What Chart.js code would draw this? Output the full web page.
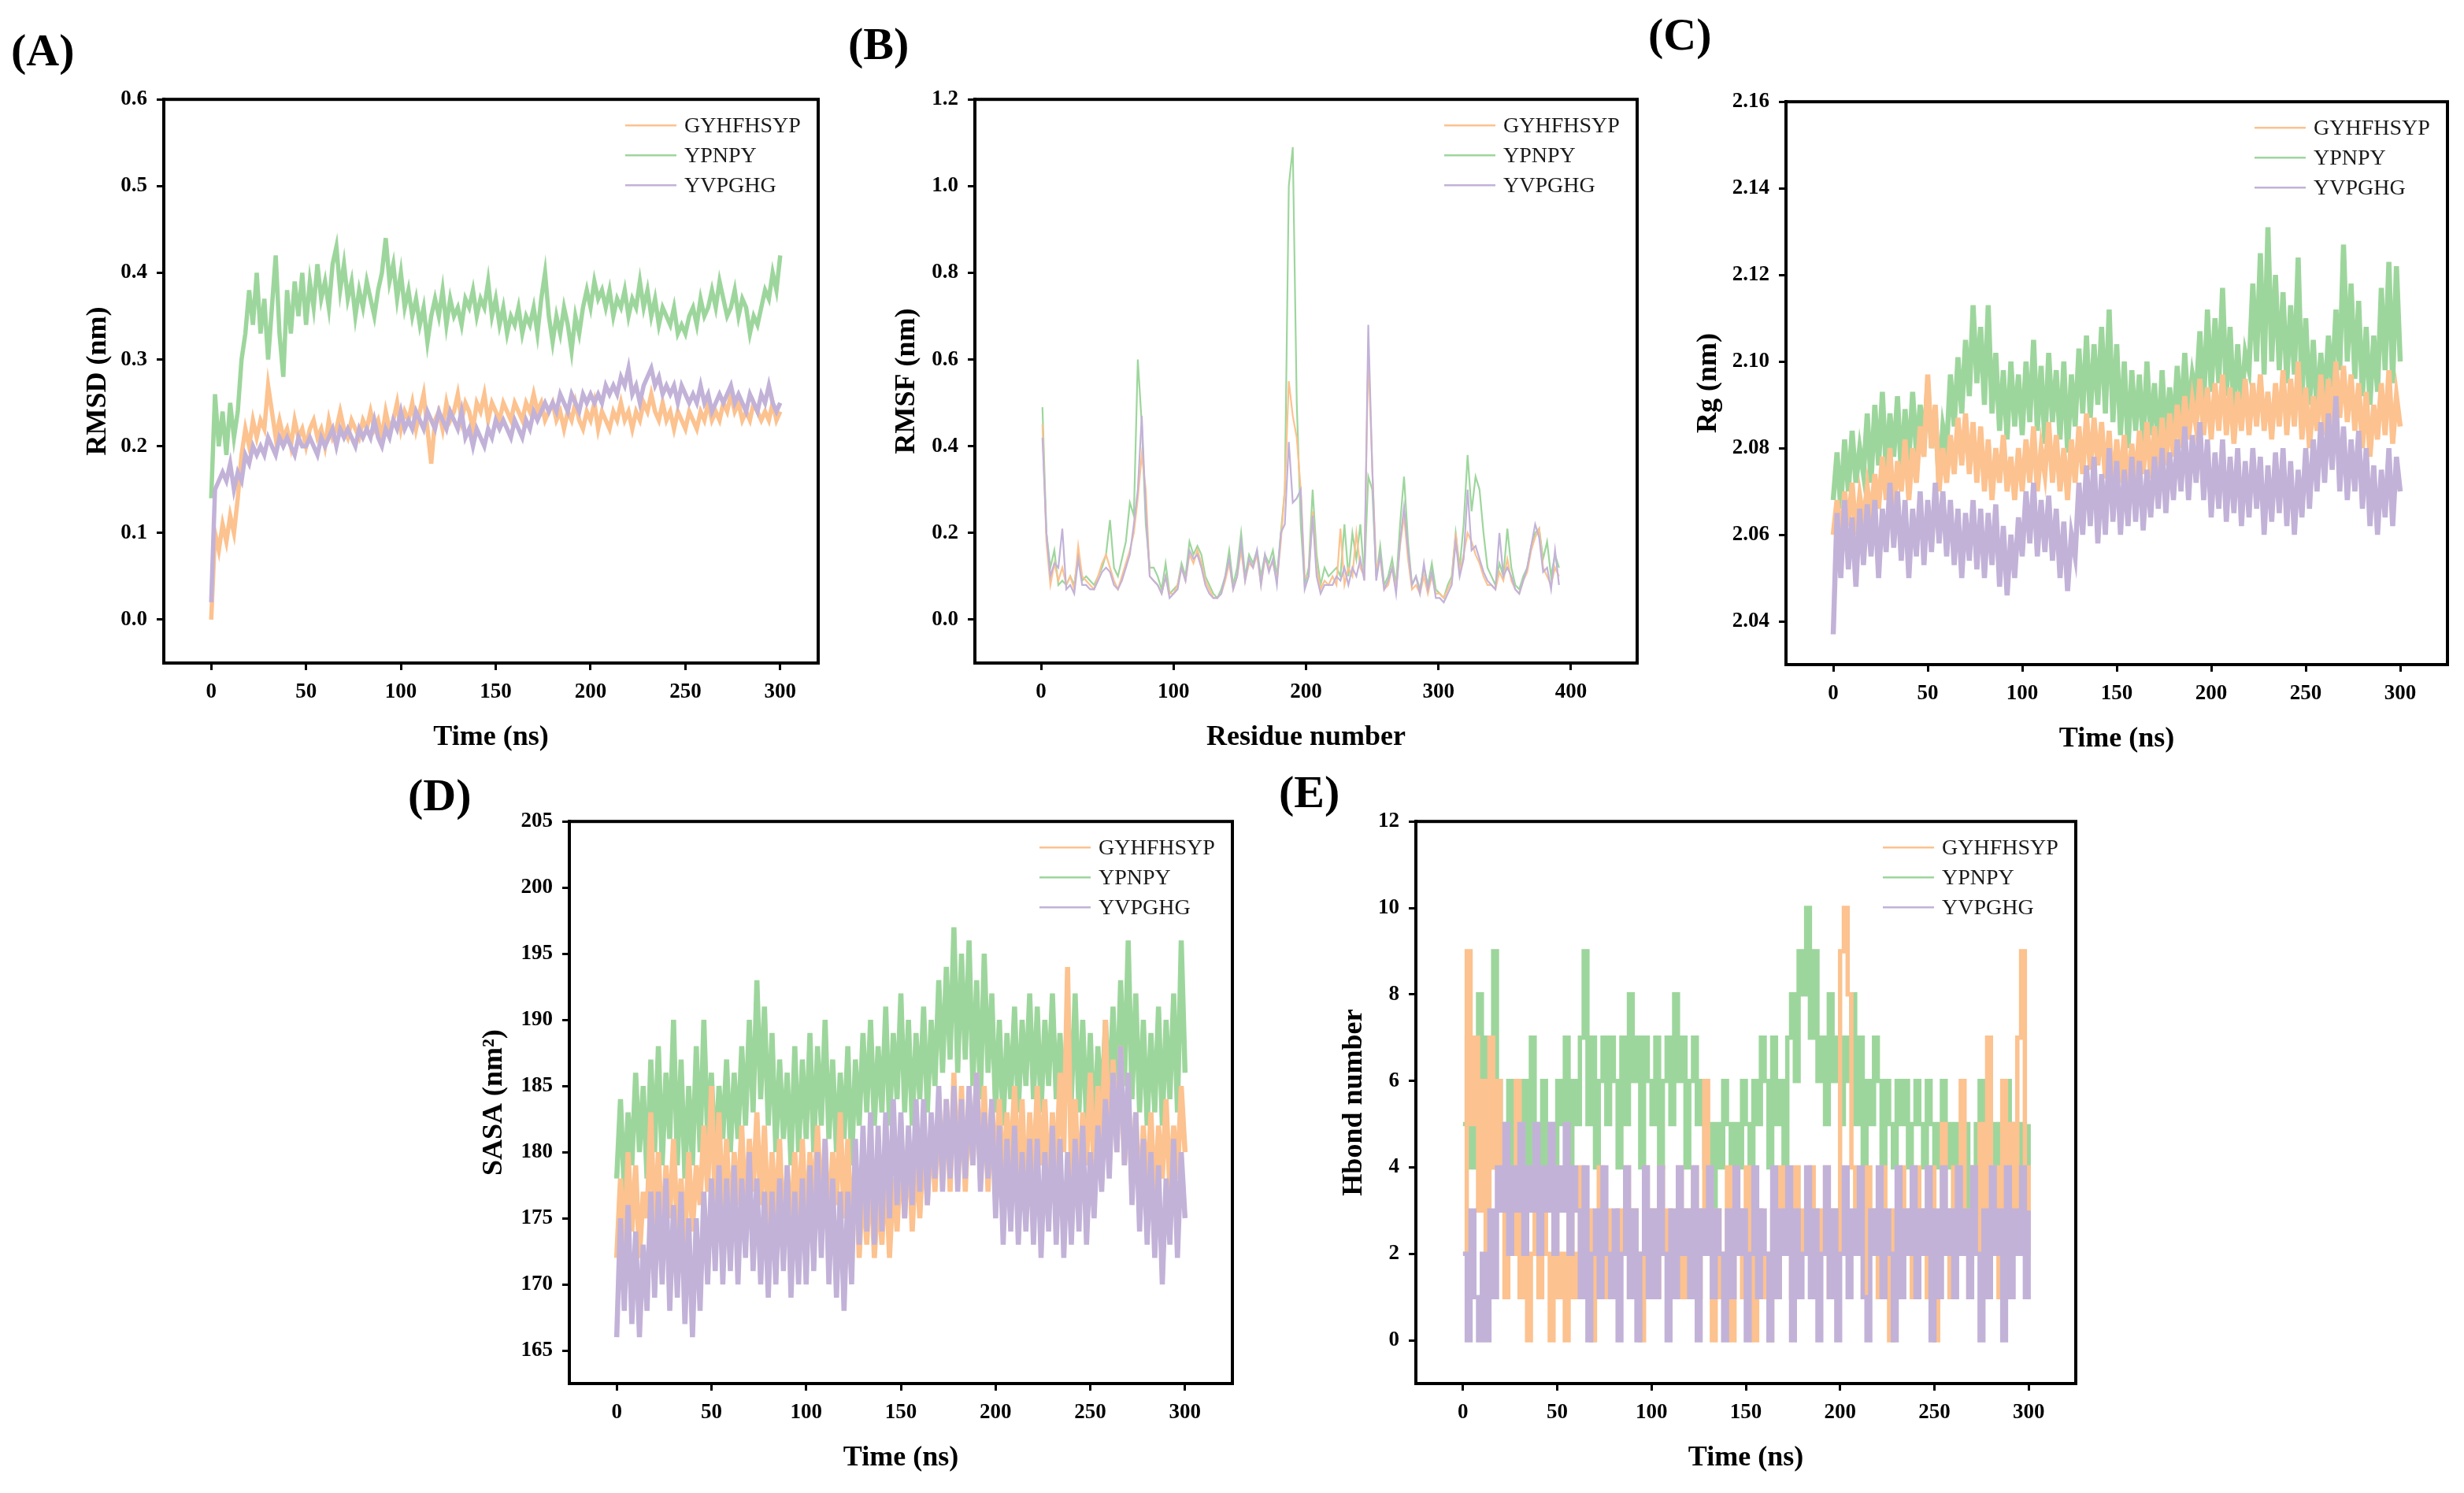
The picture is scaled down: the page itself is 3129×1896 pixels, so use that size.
<!DOCTYPE html>
<html>
<head>
<meta charset="utf-8">
<script src="https://cdn.jsdelivr.net/npm/chart.js@4.4.1/dist/chart.umd.min.js"></script>
<style>
body { margin: 0; background: #fff; width: 3129px; height: 1896px; position: relative; overflow: hidden; font-family: "Liberation Serif", "Times New Roman", serif; }
canvas { position: absolute; }
.tag { position: absolute; font-weight: bold; font-size: 58px; line-height: 1; color: #000; }
</style>
</head>
<body>
<div class="tag" style="left:14px;top:35px">(A)</div>
<div class="tag" style="left:1077px;top:27px">(B)</div>
<div class="tag" style="left:2093px;top:15px">(C)</div>
<div class="tag" style="left:518px;top:981px">(D)</div>
<div class="tag" style="left:1624px;top:977px">(E)</div>
<canvas id="cA"></canvas>
<canvas id="cB"></canvas>
<canvas id="cC"></canvas>
<canvas id="cD"></canvas>
<canvas id="cE"></canvas>
<script>
// peptides
const names = ['GYHFHSYP', 'YPNPY', 'YVPGHG'];

// frames every 2 ns, residues every 3rd
const time = Array.from({length: 151}, (_, i) => i * 2);
const residue = Array.from({length: 131}, (_, i) => 1 + i * 3);

const xTicksTime = [0, 50, 100, 150, 200, 250, 300];
const xTicksRes = [0, 100, 200, 300, 400];
const yTicksRmsd = [0, 0.1, 0.2, 0.3, 0.4, 0.5, 0.6];
const yTicksRmsf = [0, 0.2, 0.4, 0.6, 0.8, 1.0, 1.2];
const yTicksRg = [2.04, 2.06, 2.08, 2.10, 2.12, 2.14, 2.16];
const yTicksSasa = [165, 170, 175, 180, 185, 190, 195, 200, 205];
const yTicksHb = [0, 2, 4, 6, 8, 10, 12];

// (A) RMSD, nm
const rmsdGYH = [0.0,0.1,0.08,0.11,0.09,0.12,0.1,0.14,0.19,0.22,
  0.2,0.23,0.21,0.23,0.22,0.27,0.24,0.21,0.23,0.21,
  0.22,0.2,0.23,0.21,0.22,0.2,0.22,0.23,0.21,0.22,
  0.2,0.23,0.21,0.22,0.24,0.22,0.21,0.23,0.22,0.21,
  0.23,0.22,0.24,0.22,0.23,0.21,0.24,0.22,0.23,0.25,
  0.22,0.24,0.23,0.25,0.22,0.24,0.26,0.22,0.18,0.23,
  0.24,0.22,0.25,0.23,0.24,0.26,0.23,0.25,0.24,0.22,
  0.25,0.24,0.26,0.23,0.25,0.24,0.23,0.25,0.24,0.23,
  0.25,0.24,0.23,0.25,0.24,0.26,0.24,0.25,0.23,0.24,
  0.25,0.23,0.24,0.22,0.24,0.23,0.25,0.23,0.22,0.24,
  0.23,0.25,0.22,0.24,0.23,0.22,0.24,0.23,0.25,0.23,
  0.24,0.22,0.24,0.23,0.25,0.24,0.26,0.24,0.23,0.25,
  0.23,0.24,0.22,0.24,0.23,0.22,0.24,0.23,0.22,0.24,
  0.23,0.25,0.23,0.24,0.23,0.25,0.24,0.26,0.24,0.25,
  0.23,0.24,0.23,0.25,0.24,0.23,0.24,0.23,0.25,0.23,
  0.24];
const rmsdYPN = [0.14,0.26,0.2,0.24,0.19,0.25,0.21,0.24,0.3,0.33,
  0.38,0.34,0.4,0.33,0.37,0.3,0.36,0.42,0.33,0.28,
  0.38,0.33,0.39,0.35,0.4,0.34,0.39,0.36,0.41,0.37,
  0.39,0.36,0.41,0.43,0.38,0.41,0.37,0.39,0.35,0.38,
  0.36,0.39,0.37,0.35,0.38,0.4,0.44,0.39,0.41,0.37,
  0.4,0.36,0.38,0.35,0.37,0.34,0.36,0.32,0.35,0.37,
  0.35,0.38,0.34,0.37,0.35,0.36,0.34,0.37,0.36,0.38,
  0.35,0.37,0.36,0.39,0.35,0.37,0.34,0.36,0.33,0.35,
  0.34,0.36,0.33,0.35,0.34,0.36,0.33,0.37,0.4,0.35,
  0.32,0.35,0.33,0.36,0.34,0.31,0.35,0.33,0.36,0.38,
  0.36,0.39,0.37,0.38,0.36,0.38,0.35,0.37,0.36,0.38,
  0.35,0.37,0.36,0.39,0.36,0.38,0.35,0.37,0.34,0.36,
  0.35,0.34,0.36,0.33,0.34,0.33,0.35,0.36,0.34,0.37,
  0.35,0.36,0.38,0.36,0.39,0.37,0.35,0.36,0.38,0.35,
  0.37,0.36,0.33,0.35,0.34,0.36,0.38,0.37,0.4,0.38,
  0.42];
const rmsdYVP = [0.02,0.15,0.16,0.17,0.16,0.18,0.15,0.17,0.16,0.19,
  0.18,0.2,0.19,0.2,0.19,0.21,0.2,0.19,0.21,0.2,
  0.21,0.2,0.19,0.21,0.2,0.2,0.21,0.2,0.19,0.21,
  0.2,0.21,0.22,0.2,0.22,0.21,0.22,0.21,0.2,0.22,
  0.21,0.22,0.21,0.23,0.21,0.2,0.22,0.21,0.23,0.22,
  0.24,0.22,0.23,0.22,0.24,0.23,0.22,0.24,0.23,0.22,
  0.24,0.23,0.22,0.24,0.23,0.22,0.24,0.21,0.22,0.2,
  0.22,0.21,0.2,0.22,0.21,0.23,0.22,0.23,0.22,0.21,
  0.23,0.22,0.21,0.23,0.22,0.24,0.23,0.24,0.25,0.24,
  0.25,0.24,0.26,0.25,0.24,0.26,0.25,0.24,0.26,0.25,
  0.26,0.25,0.26,0.25,0.27,0.26,0.27,0.26,0.28,0.27,
  0.29,0.26,0.27,0.25,0.27,0.28,0.29,0.27,0.28,0.26,
  0.27,0.26,0.27,0.25,0.27,0.26,0.25,0.26,0.25,0.27,
  0.25,0.26,0.24,0.25,0.26,0.25,0.26,0.27,0.25,0.26,
  0.25,0.24,0.26,0.25,0.24,0.26,0.25,0.27,0.25,0.24,
  0.25];

// (B) RMSF, nm
const rmsfGYH = [0.45,0.18,0.08,0.13,0.09,0.12,0.08,0.1,0.07,0.17,0.1,0.09,0.08,0.07,
  0.1,0.13,0.15,0.12,0.09,0.07,0.1,0.13,0.16,0.2,0.28,0.38,0.3,0.1,
  0.09,0.08,0.06,0.1,0.06,0.06,0.08,0.12,0.09,0.15,0.13,0.16,0.13,0.09,0.07,0.05,
  0.05,0.06,0.09,0.13,0.07,0.1,0.16,0.09,0.13,0.12,0.15,0.08,0.14,0.12,0.13,0.09,0.18,
  0.3,0.55,0.47,0.42,0.3,0.1,0.1,0.25,
  0.12,0.07,0.09,0.08,0.1,0.08,0.21,0.08,0.12,0.1,0.2,0.12,0.1,
  0.62,0.35,0.12,
  0.14,0.07,0.08,0.12,0.07,0.17,0.24,0.14,0.07,0.08,0.06,0.1,0.06,0.1,0.06,
  0.06,0.05,0.07,0.09,0.2,0.11,0.15,0.2,
  0.18,0.15,0.13,0.1,0.08,0.08,0.07,0.11,0.09,0.14,0.09,0.07,0.06,0.09,0.11,0.16,0.19,0.21,0.12,0.1,0.08,0.12,0.1];
const rmsfYPN = [0.49,0.2,0.12,0.16,0.08,0.09,0.08,0.1,0.08,0.15,0.09,0.1,0.09,0.08,
  0.1,0.12,0.15,0.23,0.12,0.1,0.14,0.18,0.27,0.24,0.6,0.45,0.22,0.12,
  0.12,0.1,0.07,0.13,0.06,0.07,0.08,0.13,0.1,0.18,0.15,0.17,0.15,0.1,0.08,0.06,
  0.05,0.07,0.1,0.16,0.08,0.12,0.2,0.1,0.15,0.13,0.16,0.1,0.15,0.13,0.16,0.1,0.2,
  0.3,1.0,1.09,0.5,0.22,0.08,0.12,0.3,
  0.15,0.08,0.12,0.1,0.11,0.12,0.1,0.22,0.1,0.2,0.14,0.22,0.1,
  0.33,0.3,0.1,
  0.17,0.08,0.1,0.14,0.08,0.22,0.33,0.18,0.08,0.1,0.07,0.12,0.08,0.13,0.07,
  0.06,0.05,0.08,0.1,0.2,0.12,0.22,0.38,
  0.25,0.33,0.3,0.2,0.12,0.1,0.08,0.13,0.1,0.21,0.12,0.08,0.07,0.1,0.12,0.17,0.2,0.21,0.14,0.18,0.1,0.15,0.12];
const rmsfYVP = [0.42,0.2,0.1,0.13,0.12,0.21,0.07,0.08,0.06,0.14,0.08,0.08,0.07,0.07,
  0.09,0.11,0.12,0.11,0.08,0.07,0.09,0.12,0.15,0.22,0.3,0.47,0.25,0.1,
  0.09,0.08,0.06,0.1,0.05,0.06,0.07,0.12,0.09,0.16,0.14,0.15,0.12,0.08,0.06,0.05,
  0.05,0.06,0.1,0.14,0.07,0.1,0.18,0.09,0.14,0.12,0.16,0.08,0.15,0.11,0.14,0.08,0.2,
  0.22,0.41,0.27,0.28,0.3,0.07,0.1,0.24,
  0.1,0.06,0.08,0.08,0.08,0.1,0.09,0.12,0.08,0.12,0.1,0.14,0.09,
  0.68,0.35,0.09,
  0.15,0.07,0.09,0.12,0.06,0.18,0.26,0.16,0.08,0.1,0.06,0.13,0.07,0.11,0.05,
  0.05,0.04,0.06,0.08,0.18,0.1,0.14,0.3,
  0.16,0.17,0.14,0.11,0.09,0.08,0.07,0.2,0.1,0.12,0.1,0.07,0.06,0.09,0.12,0.17,0.22,0.19,0.11,0.12,0.07,0.16,0.08];

// (C) Rg, nm
const rgGYH = [2.06,2.068,2.058,2.07,2.062,2.072,2.06,2.069,2.063,2.071,
  2.064,2.074,2.066,2.078,2.068,2.08,2.065,2.077,2.07,2.082,
  2.068,2.08,2.072,2.085,2.078,2.097,2.08,2.09,2.07,2.08,
  2.072,2.083,2.074,2.087,2.076,2.088,2.074,2.086,2.072,2.085,
  2.07,2.082,2.068,2.08,2.072,2.083,2.07,2.078,2.068,2.08,
  2.07,2.082,2.072,2.085,2.07,2.08,2.074,2.086,2.072,2.083,
  2.07,2.08,2.068,2.082,2.072,2.085,2.074,2.088,2.075,2.087,
  2.076,2.086,2.073,2.084,2.07,2.082,2.072,2.083,2.07,2.081,
  2.072,2.084,2.074,2.086,2.073,2.085,2.075,2.087,2.076,2.088,
  2.078,2.09,2.08,2.092,2.082,2.091,2.085,2.096,2.083,2.094,
  2.082,2.095,2.084,2.097,2.083,2.094,2.081,2.093,2.084,2.096,
  2.083,2.095,2.085,2.097,2.084,2.093,2.082,2.095,2.085,2.098,
  2.083,2.096,2.085,2.1,2.082,2.094,2.08,2.092,2.084,2.097,
  2.083,2.096,2.085,2.1,2.087,2.099,2.086,2.097,2.084,2.095,
  2.08,2.093,2.078,2.09,2.082,2.095,2.083,2.098,2.081,2.092,
  2.085];
const rgYPN = [2.068,2.079,2.066,2.082,2.07,2.084,2.072,2.08,2.074,2.088,
  2.072,2.09,2.076,2.093,2.075,2.088,2.078,2.092,2.074,2.089,
  2.077,2.093,2.079,2.09,2.082,2.095,2.08,2.088,2.072,2.085,
  2.08,2.097,2.085,2.101,2.088,2.105,2.092,2.113,2.095,2.108,
  2.09,2.113,2.088,2.102,2.084,2.098,2.082,2.1,2.085,2.097,
  2.083,2.1,2.086,2.105,2.084,2.099,2.081,2.102,2.086,2.098,
  2.082,2.1,2.079,2.097,2.085,2.103,2.088,2.106,2.087,2.104,
  2.09,2.108,2.088,2.112,2.086,2.104,2.083,2.1,2.08,2.098,
  2.084,2.097,2.081,2.1,2.083,2.095,2.08,2.098,2.082,2.094,
  2.084,2.099,2.086,2.102,2.088,2.097,2.092,2.107,2.09,2.112,
  2.093,2.11,2.095,2.117,2.092,2.108,2.088,2.104,2.09,2.102,
  2.098,2.118,2.1,2.125,2.097,2.131,2.1,2.12,2.098,2.116,
  2.095,2.113,2.097,2.124,2.092,2.11,2.09,2.105,2.088,2.102,
  2.09,2.106,2.094,2.112,2.098,2.127,2.1,2.118,2.096,2.114,
  2.092,2.108,2.09,2.106,2.093,2.117,2.098,2.123,2.095,2.122,
  2.1];
const rgYVP = [2.037,2.065,2.05,2.068,2.052,2.064,2.048,2.066,2.053,2.067,
  2.055,2.068,2.05,2.066,2.056,2.072,2.057,2.07,2.054,2.068,
  2.05,2.066,2.055,2.07,2.053,2.068,2.056,2.072,2.058,2.07,
  2.055,2.068,2.053,2.066,2.05,2.065,2.054,2.068,2.052,2.066,
  2.05,2.065,2.053,2.067,2.048,2.062,2.046,2.06,2.05,2.064,
  2.055,2.07,2.058,2.072,2.055,2.068,2.056,2.069,2.054,2.066,
  2.05,2.063,2.047,2.06,2.055,2.072,2.06,2.076,2.062,2.078,
  2.058,2.074,2.06,2.08,2.063,2.077,2.06,2.075,2.062,2.078,
  2.063,2.077,2.061,2.075,2.064,2.078,2.066,2.08,2.065,2.079,
  2.068,2.082,2.07,2.085,2.068,2.083,2.072,2.086,2.068,2.082,
  2.064,2.079,2.066,2.082,2.063,2.078,2.065,2.08,2.062,2.077,
  2.064,2.08,2.066,2.078,2.06,2.076,2.063,2.079,2.065,2.08,
  2.062,2.077,2.06,2.075,2.064,2.08,2.066,2.082,2.07,2.086,
  2.072,2.088,2.075,2.092,2.07,2.085,2.068,2.082,2.07,2.084,
  2.066,2.08,2.062,2.076,2.06,2.075,2.064,2.08,2.062,2.078,
  2.07];

// (D) SASA, nm2
const sasaGYH = [172,178,173,180,174,179,172,177,175,183,
  174,180,173,179,175,181,174,178,173,180,
  174,179,176,182,177,185,176,183,175,181,
  174,180,176,182,175,181,177,183,176,182,
  174,180,175,181,173,179,174,180,175,181,
  174,180,176,182,175,181,174,180,176,183,
  175,181,173,180,172,178,173,179,172,177,
  173,179,172,178,174,180,175,181,174,180,
  175,181,176,182,177,183,178,184,177,186,
  178,185,177,184,179,186,178,185,177,184,
  178,184,177,183,179,185,178,184,176,183,
  178,185,179,184,177,183,178,186,180,194,
  178,184,177,183,179,186,178,185,180,190,
  179,187,180,188,179,185,177,183,176,182,
  177,183,176,182,178,184,177,182,178,185,
  180];
const sasaYPN = [178,184,177,183,179,186,180,185,178,187,
  180,188,179,186,181,190,179,187,178,185,
  179,188,180,190,181,186,179,185,181,187,
  180,186,181,188,182,190,183,193,184,191,
  182,189,180,187,181,186,179,188,180,187,
  181,189,180,188,182,190,181,187,180,186,
  181,188,179,187,182,189,183,190,182,188,
  183,191,182,189,184,192,183,190,182,189,
  184,191,183,190,185,193,186,194,187,197,
  186,195,187,196,185,193,184,195,186,192,
  183,190,182,189,184,191,183,190,185,192,
  184,191,183,190,185,192,184,189,183,191,
  184,192,183,190,182,189,181,188,183,190,
  184,191,183,193,185,196,184,192,183,190,
  182,189,183,191,182,190,184,192,183,196,
  186];
const sasaYVP = [166,175,168,176,167,174,166,173,168,177,
  169,177,170,178,168,176,169,177,167,175,
  166,175,168,177,170,178,171,179,170,178,
  171,179,170,178,172,180,171,178,170,177,
  169,177,170,178,171,179,169,177,170,178,
  170,179,171,180,172,181,170,178,169,177,
  168,177,170,181,173,182,174,183,173,182,
  174,183,175,184,176,183,175,182,176,184,
  177,184,176,183,178,185,177,184,178,185,
  177,184,178,185,179,186,177,183,178,184,
  175,182,173,181,174,182,173,180,174,181,
  173,181,172,180,174,182,173,181,172,180,
  173,181,174,182,173,180,175,182,177,184,
  178,186,180,188,179,186,176,183,174,181,
  173,180,172,179,170,178,173,181,172,180,
  175];

// (E) H-bond count
const hbGYH = [2,9,5,7,3,6,2,7,4,6,
  3,1,4,2,6,1,3,0,2,4,
  1,3,2,0,4,1,2,0,3,1,
  2,4,1,3,0,2,4,1,3,2,
  1,3,2,4,1,3,2,0,4,2,
  3,1,4,2,3,1,2,4,1,3,
  2,4,1,3,6,2,0,3,1,2,
  4,0,2,3,1,4,2,0,3,1,
  2,0,3,1,4,2,3,1,4,2,
  3,2,4,1,3,2,4,1,3,2,
  9,10,8,4,2,3,1,4,2,3,
  1,4,2,0,3,1,4,2,3,1,
  4,2,3,1,4,0,2,5,3,1,
  4,2,6,3,1,4,2,5,3,7,
  2,4,1,6,3,5,2,7,9,4,
  2];
const hbYPN = [5,7,4,6,8,5,7,4,9,6,
  5,3,6,4,5,3,6,4,7,5,
  4,6,3,5,4,6,5,7,4,6,
  5,7,9,5,7,4,6,7,5,7,
  6,4,7,5,8,6,7,4,7,6,
  5,7,4,6,7,5,8,6,7,4,
  6,7,5,6,4,5,3,5,4,6,
  5,3,5,4,6,5,4,6,5,7,
  6,4,7,5,6,4,7,8,6,9,
  8,10,7,9,6,7,5,8,6,7,
  5,7,6,8,5,7,4,6,5,7,
  6,4,6,5,4,6,5,6,4,5,
  6,5,4,6,5,4,5,6,4,5,
  3,5,4,5,3,4,5,6,4,5,
  3,5,4,5,6,4,5,3,5,4,
  5];
const hbYVP = [2,0,3,1,0,2,0,3,1,4,
  3,5,2,4,3,5,2,4,3,5,
  2,4,3,5,2,4,3,5,2,4,
  3,1,4,0,2,3,1,4,2,1,
  3,0,2,4,1,3,0,2,4,1,
  3,1,4,2,0,3,1,4,2,3,
  1,4,0,3,2,4,1,3,2,0,
  3,1,4,2,3,0,2,4,1,3,
  2,0,4,1,3,2,4,0,3,1,
  2,4,1,3,0,2,4,1,3,0,
  2,4,1,3,2,4,1,0,3,2,
  4,1,3,2,0,4,1,3,2,4,
  1,3,2,4,0,3,1,4,2,3,
  1,4,2,3,1,4,2,0,3,1,
  4,2,3,0,4,1,3,2,4,1,
  3];

const colors = ['#fcc28f', '#9dd69c', '#c2b2d8'];
const layerOrder = [1, 2, 0]; // green at the back, purple on top

// frame + legend inside the plot
const frame = {
  id: 'frame',
  afterDraw(chart) {
    const {ctx, chartArea: a} = chart;
    ctx.save();
    ctx.strokeStyle = '#000';
    ctx.lineWidth = 4;
    ctx.strokeRect(a.left, a.top, a.right - a.left, a.bottom - a.top);
    ctx.font = '28px "Liberation Serif"';
    ctx.textBaseline = 'middle';
    names.forEach((n, k) => {
      const y = a.top + 33 + k * 38;
      ctx.strokeStyle = colors[k];
      ctx.lineWidth = 2.5;
      ctx.beginPath();
      ctx.moveTo(a.right - 245, y);
      ctx.lineTo(a.right - 180, y);
      ctx.stroke();
      ctx.fillStyle = '#1a1a1a';
      ctx.fillText(n, a.right - 170, y + 1);
    });
    ctx.restore();
  }
};

function panel(id, box, p) {
  const W = 130, H = 120, padT = 20, padR = 20;
  const cv = document.getElementById(id);
  const left = box.l - W, top = box.t - padT;
  const w = box.r - left + padR, h = box.b + H - top;
  cv.style.left = left + 'px';
  cv.style.top = top + 'px';
  cv.style.width = w + 'px';
  cv.style.height = h + 'px';
  cv.width = w;
  cv.height = h;

  const axis = (ticks) => ({
    bounds: 'data',
    afterBuildTicks: s => { s.ticks = ticks.map(v => ({value: v})); },
    grid: { drawOnChartArea: false, tickLength: 9, tickWidth: 3, tickColor: '#000' },
    border: { color: '#000', width: 4 }
  });

  new Chart(cv, {
    type: 'line',
    data: {
      datasets: p.series.map((ys, k) => ({
        label: names[k],
        data: ys.map((v, i) => ({x: p.x[i], y: v})),
        borderColor: colors[k],
        borderWidth: p.lw,
        borderJoinStyle: 'miter',
        pointRadius: 0,
        stepped: p.stepped || false,
        order: layerOrder[k]
      }))
    },
    options: {
      responsive: false,
      animation: false,
      devicePixelRatio: 1,
      layout: { padding: { top: padT, right: padR, left: 0, bottom: 0 } },
      plugins: { legend: { display: false }, tooltip: { enabled: false } },
      scales: {
        x: Object.assign(axis(p.xTicks), {
          type: 'linear', min: p.xMin, max: p.xMax,
          afterFit: s => { s.height = H; },
          ticks: { color: '#000', padding: 12, autoSkip: false, maxRotation: 0,
            font: { size: 27, weight: 'bold' }, callback: v => String(v) },
          title: { display: true, text: p.xTitle, color: '#000',
            font: { size: 36, weight: 'bold', lineHeight: 1 }, padding: { top: 0, bottom: 7 } }
        }),
        y: Object.assign(axis(p.yTicks), {
          min: p.yMin, max: p.yMax,
          afterFit: s => { s.width = W; },
          ticks: { color: '#000', padding: 12, autoSkip: false,
            font: { size: 27, weight: 'bold' }, callback: v => v.toFixed(p.dec) },
          title: { display: true, text: p.yTitle, color: '#000',
            font: { size: 36, weight: 'bold', lineHeight: 1 }, padding: { top: 112 - p.yGap, bottom: 0 } }
        })
      }
    },
    plugins: [frame]
  });
}

Chart.defaults.font.family = '"Liberation Serif", "Times New Roman", serif';

panel('cA', {l: 208, t: 118, r: 1039, b: 842}, {
  x: time, series: [rmsdGYH, rmsdYPN, rmsdYVP], lw: 5.5,
  xMin: -25, xMax: 320, xTicks: xTicksTime, xTitle: 'Time (ns)',
  yMin: -0.05, yMax: 0.6, yTicks: yTicksRmsd, dec: 1, yTitle: 'RMSD (nm)', yGap: 83
});
panel('cB', {l: 1238, t: 118, r: 2079, b: 842}, {
  x: residue, series: [rmsfGYH, rmsfYPN, rmsfYVP], lw: 2.2,
  xMin: -50, xMax: 450, xTicks: xTicksRes, xTitle: 'Residue number',
  yMin: -0.1, yMax: 1.2, yTicks: yTicksRmsf, dec: 1, yTitle: 'RMSF (nm)', yGap: 86
});
panel('cC', {l: 2268, t: 121, r: 3108, b: 844}, {
  x: time, series: [rgGYH, rgYPN, rgYVP], lw: 6.5,
  xMin: -25, xMax: 325, xTicks: xTicksTime, xTitle: 'Time (ns)',
  yMin: 2.03, yMax: 2.16, yTicks: yTicksRg, dec: 2, yTitle: 'Rg (nm)', yGap: 98
});
panel('cD', {l: 723, t: 1035, r: 1565, b: 1757}, {
  x: time, series: [sasaGYH, sasaYPN, sasaYVP], lw: 6.5,
  xMin: -25, xMax: 325, xTicks: xTicksTime, xTitle: 'Time (ns)',
  yMin: 162.5, yMax: 205, yTicks: yTicksSasa, dec: 0, yTitle: 'SASA (nm\u00b2)', yGap: 95
});
panel('cE', {l: 1798, t: 1035, r: 2636, b: 1757}, {
  x: time, series: [hbGYH, hbYPN, hbYVP], lw: 5.5, stepped: true,
  xMin: -25, xMax: 325, xTicks: xTicksTime, xTitle: 'Time (ns)',
  yMin: -1, yMax: 12, yTicks: yTicksHb, dec: 0, yTitle: 'Hbond number', yGap: 78
});
</script>
</body>
</html>
